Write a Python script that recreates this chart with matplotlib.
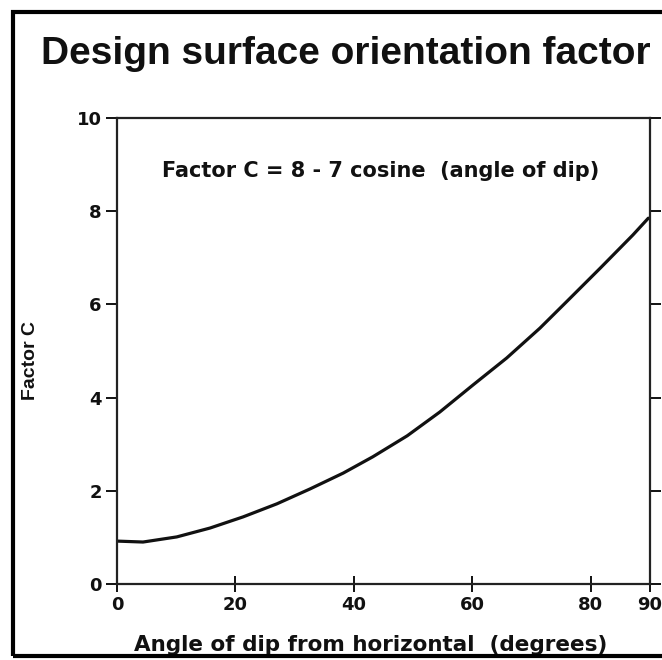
import matplotlib
matplotlib.use("Agg")
import matplotlib.pyplot as plt
from matplotlib.patches import Rectangle

plt.rcParams['font.family'] = ['DejaVu Sans']

# curve (angle in degrees, factor C)
angle = [0, 4.4, 10.1, 15.7, 21.3, 27.0, 32.6, 38.2, 43.2, 49.0, 54.5,
         60.1, 65.8, 71.4, 76.0, 81.6, 87.1, 89.7]
factor_c = [0.92, 0.90, 1.01, 1.20, 1.44, 1.72, 2.04, 2.38, 2.73, 3.18, 3.69,
            4.27, 4.85, 5.49, 6.07, 6.78, 7.49, 7.85]

x_ticks = [0, 20, 40, 60, 80, 90]
y_ticks = [0, 2, 4, 6, 8, 10]

title = "Design surface orientation factor"
formula = "Factor C = 8 - 7 cosine  (angle of dip)"

fig = plt.figure(figsize=(6.62, 6.60), dpi=100)
ax = fig.add_axes([0.1767, 0.1152, 0.8053, 0.706])

ax.plot(angle, factor_c, color='#111111', lw=2.3, solid_capstyle='round',
        solid_joinstyle='round')
ax.set_xlim(0, 90)
ax.set_ylim(0, 10)
ax.set_xticks(x_ticks)
ax.set_yticks(y_ticks)

for s in ax.spines.values():
    s.set_linewidth(1.6)
    s.set_color('#222222')

ax.tick_params(axis='y', direction='out', length=8, width=1.4, pad=3,
               labelsize=13, colors='#111111')
ax.tick_params(axis='y', which='both', right=True, labelright=False)
ax.tick_params(axis='x', direction='inout', length=12, width=1.4, pad=3,
               labelsize=13, colors='#111111')
for lab in ax.get_xticklabels() + ax.get_yticklabels():
    lab.set_fontweight('bold')

ax.text(0.084, 0.886, formula, transform=ax.transAxes, fontsize=15,
        fontweight='bold', ha='left', va='center', color='#111111')

ax.set_xlabel("Angle of dip from horizontal  (degrees)", fontsize=15.5,
              fontweight='bold', color='#111111', va='center')
ax.xaxis.set_label_coords(0.475, -0.131)
ax.set_ylabel("Factor C", fontsize=14, fontweight='bold', color='#111111',
              family='Liberation Sans', va='center')
ax.yaxis.set_label_coords(-0.163, 0.48)

fig.text(0.523, 0.918, title, fontsize=28, fontweight='bold',
         family='Liberation Sans', ha='center', va='center', color='#111111')

# black frame around the scanned figure
fig.patches.append(Rectangle((0.0196, 0.006), 1.2, 0.976, transform=fig.transFigure,
                             fill=False, lw=3, edgecolor='black'))

fig.savefig("out.png", dpi=100, facecolor='white')
